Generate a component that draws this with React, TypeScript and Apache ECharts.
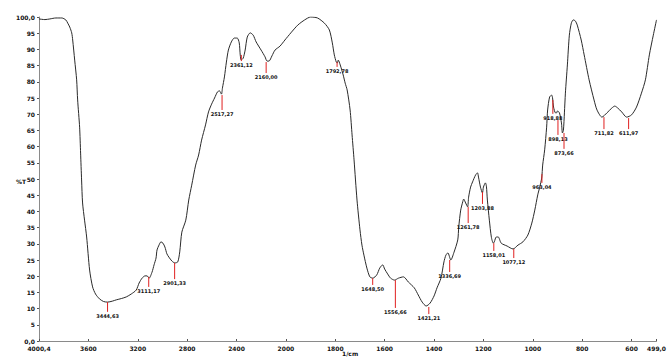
import React, { useEffect, useRef } from "react";
import * as echarts from "echarts";

// Spectrum: wavenumber (1/cm) and transmittance (%T)
const wavenumbers = [
  4000.4, 3952, 3912, 3863, 3815, 3783, 3767, 3751, 3735, 3727, 3711, 3695, 3687, 3671, 3663, 3655, 3647, 3631, 3614, 3590,
  3566, 3542, 3510, 3478, 3446, 3406, 3374, 3333, 3293, 3253, 3213, 3189, 3165, 3141, 3125, 3108, 3084, 3068, 3052, 3044,
  3028, 3012, 2996, 2980, 2964, 2948, 2924, 2900, 2876, 2860, 2843, 2811, 2787, 2763, 2731, 2707, 2683, 2651, 2627, 2602,
  2578, 2554, 2538, 2522, 2514, 2498, 2482, 2466, 2442, 2418, 2394, 2378, 2370, 2362, 2346, 2330, 2313, 2289, 2265, 2241,
  2201, 2169, 2153, 2137, 2113, 2088, 2048, 2008, 1980, 1952, 1924, 1900, 1872, 1844, 1824, 1812, 1804, 1796, 1792, 1788,
  1780, 1768, 1760, 1752, 1740, 1732, 1724, 1712, 1700, 1692, 1684, 1672, 1660, 1648, 1632, 1620, 1608, 1600, 1588, 1576,
  1560, 1544, 1524, 1504, 1480, 1464, 1448, 1432, 1416, 1400, 1388, 1372, 1360, 1352, 1344, 1332, 1320, 1304, 1300, 1292,
  1284, 1280, 1272, 1264, 1260, 1252, 1244, 1232, 1224, 1220, 1212, 1204, 1200, 1192, 1188, 1184, 1176, 1168, 1160, 1156,
  1148, 1140, 1128, 1104, 1080, 1060, 1040, 1020, 1004, 992, 980, 972, 964, 960, 952, 944, 940, 932, 924, 920,
  916, 908, 904, 900, 892, 884, 880, 876, 872, 868, 860, 852, 844, 836, 828, 820, 804, 792, 772, 752,
  740, 720, 700, 680, 668, 656, 640, 620, 600, 580, 560, 544, 528, 512, 499,
];
const transmittance = [
  99.4, 99.2, 99.4, 99.7, 99.7, 99.1, 98.1, 96.9, 95.1, 92.9, 86.7, 80.6, 74.4, 66.0, 58.0, 49.7, 42.6, 37.3, 32.1, 21.9,
  16.7, 14.5, 13.0, 12.2, 12.0, 12.3, 12.7, 13.1, 13.6, 14.5, 15.7, 17.9, 19.4, 20.1, 20.1, 19.4, 21.3, 23.5, 25.6, 28.1,
  29.6, 30.6, 30.2, 29.0, 26.9, 25.9, 24.7, 24.1, 24.4, 27.5, 33.6, 37.3, 43.5, 48.1, 54.3, 57.4, 62.0, 66.7, 70.7, 73.1,
  75.0, 76.9, 77.2, 76.2, 78.1, 81.5, 86.1, 89.8, 92.3, 93.5, 93.5, 92.0, 88.3, 86.7, 87.3, 89.8, 93.8, 95.1, 94.4, 92.3,
  89.8, 87.7, 86.4, 86.4, 88.0, 89.8, 91.0, 92.9, 95.1, 97.5, 99.1, 100.0, 99.7, 98.1, 96.0, 92.0, 88.3, 86.1, 85.8, 86.7,
  85.2, 82.1, 79.6, 77.5, 71.3, 63.6, 55.9, 43.5, 34.3, 29.6, 26.5, 22.5, 19.8, 19.4, 20.4, 22.5, 23.5, 22.2, 20.7, 19.4,
  18.8, 19.4, 19.8, 18.2, 16.4, 14.2, 12.0, 10.8, 11.7, 13.9, 16.4, 19.4, 24.4, 26.5, 27.2, 25.0, 27.2, 31.2, 35.2, 40.4,
  42.9, 43.8, 42.6, 41.4, 44.4, 47.5, 49.1, 51.2, 51.9, 50.6, 47.5, 45.7, 47.5, 48.8, 47.8, 43.5, 37.3, 32.1, 30.2, 30.6,
  32.1, 32.1, 30.2, 29.3, 28.4, 29.6, 30.6, 32.7, 36.4, 40.4, 45.1, 47.5, 50.3, 54.3, 59.0, 66.0, 71.3, 75.3, 75.9, 75.0,
  72.2, 70.4, 70.4, 71.0, 70.4, 67.3, 64.2, 65.1, 70.4, 76.5, 85.2, 94.4, 98.1, 99.1, 98.8, 97.5, 92.9, 88.3, 80.6, 74.4,
  71.3, 69.1, 70.4, 71.9, 72.5, 71.9, 70.7, 69.1, 69.8, 72.2, 76.5, 80.6, 88.3, 94.4, 99.1,
];

// Marked peaks
const peakWavenumbers = [3444.63, 3111.17, 2901.33, 2517.27, 2361.12, 2160.0, 1792.78, 1648.5, 1556.66, 1421.21, 1336.69, 1261.78, 1203.88, 1158.01, 1077.12, 963.04, 918.88, 898.13, 873.66, 711.82, 611.97];
const peakTopT = [12.0, 19.8, 24.1, 75.9, 88.3, 86.1, 86.1, 19.4, 18.8, 10.5, 25.0, 41.4, 46.0, 30.2, 28.4, 51.5, 74.4, 68.2, 64.2, 69.1, 68.8];
const peakBottomT = [9.0, 16.7, 19.1, 71.3, 86.4, 82.7, 84.6, 17.3, 10.2, 8.3, 21.3, 36.4, 42.3, 27.8, 25.6, 48.8, 70.1, 63.6, 59.3, 65.4, 65.4];
const peakLabels = ["3444,63", "3111,17", "2901,33", "2517,27", "2361,12", "2160,00", "1792,78", "1648,50", "1556,66", "1421,21", "1336,69", "1261,78", "1203,88", "1158,01", "1077,12", "963,04", "918,88", "898,13", "873,66", "711,82", "611,97"];

// Axis ticks
const xTickValues = [4000.4, 3600, 3200, 2800, 2400, 2000, 1800, 1600, 1400, 1200, 1000, 800, 600, 499];
const xTickLabels = ["4000,4", "3600", "3200", "2800", "2400", "2000", "1800", "1600", "1400", "1200", "1000", "800", "600", "499,0"];
const yTickValues = [100, 95, 90, 85, 80, 75, 70, 65, 60, 55, 50, 45, 40, 35, 30, 25, 20, 15, 10, 5, 0];
const yTickLabels = ["100,0", "95", "90", "85", "80", "75", "70", "65", "60", "55", "50", "45", "40", "35", "30", "25", "20", "15", "10", "5", "0,0"];

// Two-scale wavenumber axis (scale changes at 2000 1/cm)
const wToU = (w: number) => (w >= 2000 ? (4000 - w) / 8 : 250 + (2000 - w) / 4);

export default function App() {
  const ref = useRef<HTMLDivElement>(null);
  useEffect(() => {
    if (!ref.current) return;
    const chart = echarts.init(ref.current, null, { renderer: "svg" });
    const uMax = wToU(xTickValues[xTickValues.length - 1]);
    const font = "DejaVu Sans";
    const xLabel = (v: number) => {
      for (let i = 0; i < xTickValues.length; i++) {
        const u = Math.max(0, wToU(xTickValues[i]));
        if (Math.abs(u - v) < 0.5) return xTickLabels[i];
      }
      return "";
    };
    const yLabel = (v: number) => {
      const i = yTickValues.indexOf(Math.round(v));
      return i >= 0 ? yTickLabels[i] : "";
    };
    chart.setOption({
      animation: false,
      backgroundColor: "#ffffff",
      grid: { left: 39, right: 6, top: 17, bottom: 16, containLabel: false },
      xAxis: {
        type: "value",
        min: 0,
        max: uMax,
        interval: 50,
        splitLine: { show: false },
        axisLine: { lineStyle: { color: "#8a8a8a", width: 1 } },
        axisTick: { inside: true, length: 2, lineStyle: { color: "#555" } },
        axisLabel: {
          formatter: xLabel,
          fontSize: 6,
          fontWeight: "bold",
          fontFamily: font,
          color: "#111",
          margin: 4,
          showMinLabel: true,
          showMaxLabel: true,
        },
      },
      yAxis: {
        type: "value",
        min: 0,
        max: 100,
        interval: 5,
        splitLine: { show: false },
        axisLine: { show: true, lineStyle: { color: "#8a8a8a", width: 1 } },
        axisTick: { show: true, length: 2, lineStyle: { color: "#555" } },
        axisLabel: {
          formatter: yLabel,
          fontSize: 6,
          fontWeight: "bold",
          fontFamily: font,
          color: "#111",
          margin: 4,
        },
      },
      graphic: [
        { type: "text", left: 16, top: 178, style: { text: "%T", fontSize: 6, fontWeight: "bold", fontFamily: font, fill: "#111" } },
        { type: "text", left: 342, top: 350, style: { text: "1/cm", fontSize: 6, fontWeight: "bold", fontFamily: font, fill: "#111" } },
      ],
      series: [
        {
          type: "line",
          data: wavenumbers.map((w, i) => [wToU(w), transmittance[i]]),
          showSymbol: false,
          smooth: 0.25,
          lineStyle: { color: "#2a2a2a", width: 1 },
          z: 3,
        },
        {
          type: "custom",
          data: peakWavenumbers.map((w, i) => [wToU(w), peakTopT[i], peakBottomT[i]]),
          encode: { x: 0, y: 1 },
          z: 4,
          renderItem: (params: any, api: any) => {
            const i = params.dataIndex;
            const p1 = api.coord([api.value(0), api.value(1)]);
            const p2 = api.coord([api.value(0), api.value(2)]);
            return {
              type: "group",
              children: [
                {
                  type: "line",
                  shape: { x1: p1[0], y1: p1[1], x2: p2[0], y2: p2[1] },
                  style: { stroke: "#e02020", lineWidth: 1 },
                },
                {
                  type: "text",
                  x: p2[0],
                  y: p2[1] + 1.5,
                  style: {
                    text: peakLabels[i],
                    fontSize: 5,
                    fontWeight: "bold",
                    fontFamily: font,
                    fill: "#111",
                    align: "center",
                    verticalAlign: "top",
                  },
                },
              ],
            };
          },
        },
      ],
    });
    return () => chart.dispose();
  }, []);
  return (
    <div
      ref={ref}
      style={{ position: "fixed", left: 0, top: 0, width: 669, height: 357, background: "#fff" }}
    />
  );
}
